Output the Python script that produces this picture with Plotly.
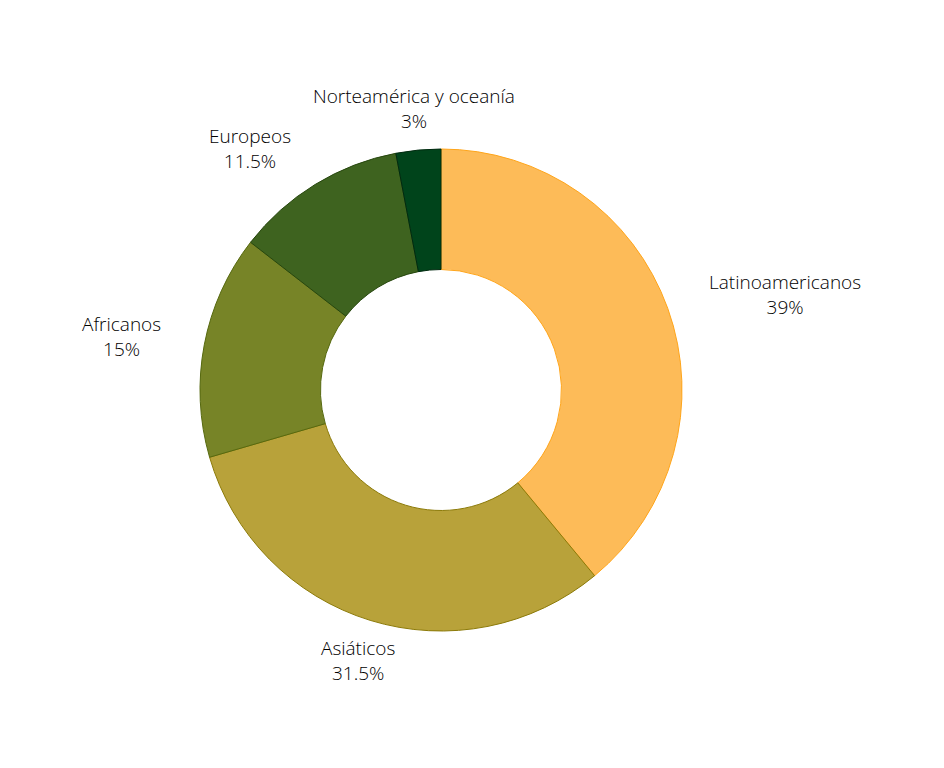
import math
import plotly.graph_objects as go

labels = ["Latinoamericanos", "Asiáticos", "Africanos", "Europeos", "Norteamérica y oceanía"]
values = [39, 31.5, 15, 11.5, 3]
value_text = ["39%", "31.5%", "15%", "11.5%", "3%"]
fill_colors = ["#FDBB58", "#B8A23A", "#778427", "#3E631F", "#00441B"]
line_colors = ["#FFA51A", "#8C7A08", "#56690F", "#27470E", "#002A0F"]

W, H = 944, 768
CX, CY, R = 433, 382, 241      # pie centre and radius in pixels (page coords)
LABEL_R = 283                  # distance of label anchor from centre

fig = go.Figure(go.Pie(
    labels=labels,
    values=values,
    hole=0.5,
    sort=False,
    direction="clockwise",
    rotation=0,
    textinfo="none",
    hoverinfo="label+percent",
    marker=dict(colors=fill_colors, line=dict(color=line_colors, width=1)),
    showlegend=False,
    domain=dict(x=[(CX - R) / W, (CX + R) / W], y=[1 - (CY + R) / H, 1 - (CY - R) / H]),
))

total = sum(values)
cum = 0.0
font = dict(family="Open Sans", size=19, color="#000000", weight=300)
for lab, v, vt in zip(labels, values, value_text):
    mid = (cum + v / 2) / total * 2 * math.pi
    cum += v
    s, c = math.sin(mid), math.cos(mid)
    px = CX + LABEL_R * s
    py = CY - LABEL_R * c
    if s > 0.45:
        xa = "left"
    elif s < -0.45:
        xa = "right"
    else:
        xa = "center"
    fig.add_annotation(
        x=px / W, y=1 - py / H, xref="paper", yref="paper",
        text=f"{lab}<br>{vt}", showarrow=False, xanchor=xa, yanchor="middle",
        align="center", font=font,
    )

fig.update_layout(
    width=W, height=H,
    margin=dict(l=0, r=0, t=0, b=0),
    paper_bgcolor="white",
    plot_bgcolor="white",
    font=dict(family="Open Sans"),
)
fig.write_html("out.html")
